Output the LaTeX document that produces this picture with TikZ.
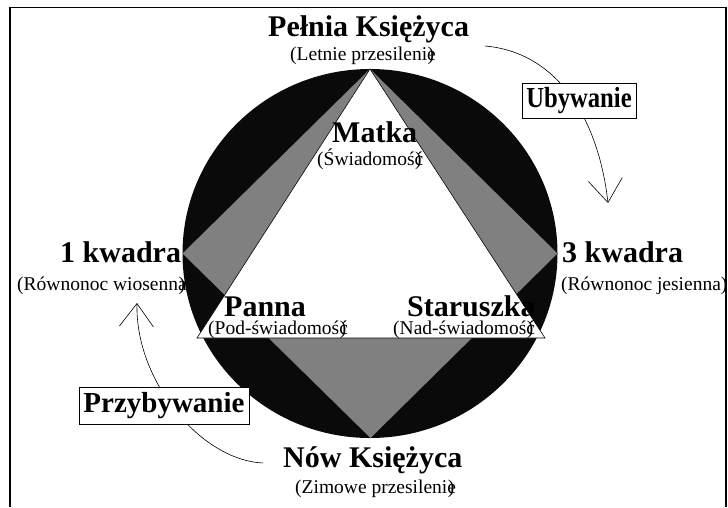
\documentclass[tikz,border=0pt]{standalone}
\usepackage{fontspec}
\setmainfont{Liberation Serif}
\usetikzlibrary{arrows.meta}
\definecolor{moonblack}{HTML}{0A0A0A}
\definecolor{moongray}{HTML}{808080}
% closing parenthesis set tight against the last letter
\newcommand{\tightparen}{\kern-0.42em)}
\tikzset{
  big/.style={font=\fontsize{30}{32}\selectfont\bfseries, inner sep=0pt, anchor=base west},
  small/.style={font=\fontsize{19.5}{21}\selectfont, inner sep=0pt, anchor=base west},
  phasebox/.style={draw, line width=0.7pt, fill=white, inner sep=0pt,
    font=\fontsize{29}{31}\selectfont\bfseries},
  flow/.style={line width=0.6pt, -{Straight Barb[length=23pt,width=34pt,line width=0.6pt]}},
}
\begin{document}
\begin{tikzpicture}[x=1pt,y=-1pt]
\useasboundingbox (0,0) rectangle (728,507);
% frame
\draw[line width=1.6pt] (10,507) -- (10,7.5) -- (726,7.5) -- (726,507);

% moon disc, inscribed square and the triangle of the three faces
\fill[moonblack] (370,253.5) ellipse [x radius=187.5, y radius=184.5];
\fill[moongray] (370,69) -- (557.5,253.5) -- (370.5,438) -- (182.5,253.5) -- cycle;
\filldraw[fill=white, draw=black, line width=0.6pt] (370,69) -- (545,338) -- (197,338) -- cycle;

% phase labels
\node[big] (full) at (268,36) {Pełnia Księżyca};
\node[small] (summer) at (290,60) {(Letnie przesilenie\tightparen};
\node[big] (mother) at (332,142) {Matka};
\node[small] (conscious) at (317,165) {(Świadomość\tightparen};
\node[big] (first) at (60,262) {1 kwadra};
\node[small] (spring) at (17,290) {(Równonoc wiosenna\tightparen};
\node[big] (third) at (562,262) {3 kwadra};
\node[small] (autumn) at (561,290) {(Równonoc jesienna)};
\node[big] (maiden) at (224,316) {Panna};
\node[small] (subconscious) at (208,334) {(Pod-świadomość\tightparen};
\node[big] (crone) at (407,316) {Staruszka};
\node[small] (superconscious) at (393,334) {(Nad-świadomość\tightparen};
\node[big] (new) at (283,467) {Nów Księżyca};
\node[small] (winter) at (295,493) {(Zimowe przesilenie\tightparen};

% waning and waxing arrows
\coordinate (waneA) at (485,46);
\coordinate (waneB) at (608,203);
\draw[flow] (waneA) .. controls (555,52) and (598,115) .. (waneB);
\node[phasebox, minimum width=114pt, minimum height=35pt] (waning) at (579,100.5)
  {\scalebox{0.85}[1]{Ubywanie}};

\coordinate (waxA) at (263,463);
\coordinate (waxB) at (137,303);
\draw[flow] (waxA) .. controls (200,460) and (135,380) .. (waxB);
\node[phasebox, minimum width=170pt, minimum height=37pt] (waxing) at (164,405.5) {Przybywanie};
\end{tikzpicture}
\end{document}
